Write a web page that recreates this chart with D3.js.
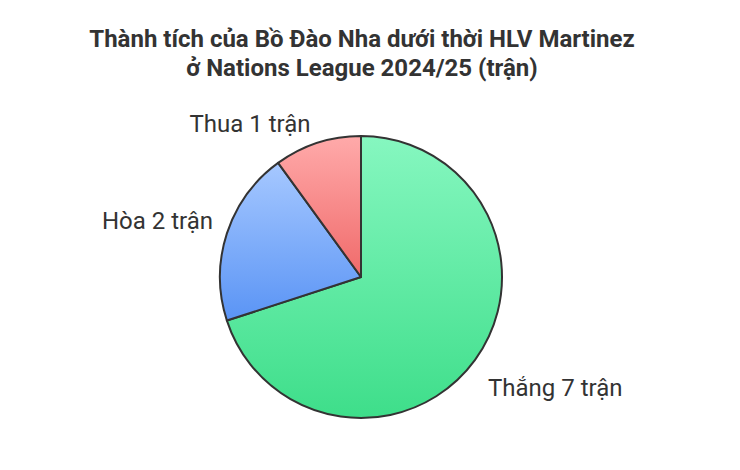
<!DOCTYPE html>
<html><head><meta charset="utf-8">
<script src="https://cdn.jsdelivr.net/npm/d3@7"></script>
<style>body{margin:0;background:#fff}</style></head>
<body><svg id="c" width="740" height="470"></svg>
<script>
const categories=["Thắng 7 trận","Hòa 2 trận","Thua 1 trận"];
const values=[7,2,1];
const colorsTop=["#86f7c0","#a6c8ff","#ffaaaa"];
const colorsBottom=["#3ede8a","#5a94f5","#f06a6a"];
const svg=d3.select("#c");
const defs=svg.append("defs");
categories.forEach((c,i)=>{
  const g=defs.append("linearGradient").attr("id","g"+i).attr("x1",0).attr("y1",0).attr("x2",0).attr("y2",1);
  g.append("stop").attr("offset","0%").attr("stop-color",colorsTop[i]);
  g.append("stop").attr("offset","100%").attr("stop-color",colorsBottom[i]);
});
svg.append("text").attr("x",362).attr("y",47).attr("text-anchor","middle").attr("font-family","Roboto").attr("font-weight","bold").attr("font-size",24).attr("fill","#333").text("Thành tích của Bồ Đào Nha dưới thời HLV Martinez");
svg.append("text").attr("x",362).attr("y",76).attr("text-anchor","middle").attr("font-family","Roboto").attr("font-weight","bold").attr("font-size",24).attr("fill","#333").text("ở Nations League 2024/25 (trận)");
const cx=361,cy=277,r=141;
const pie=d3.pie().sort(null)(values);
const arc=d3.arc().innerRadius(0).outerRadius(r);
const g=svg.append("g").attr("transform",`translate(${cx},${cy})`);
g.selectAll("path").data(pie).join("path").attr("d",arc).attr("fill",(d,i)=>`url(#g${i})`).attr("stroke","#333").attr("stroke-width",2).attr("stroke-linejoin","round");
const lab=[[488,396,"start"],[213,229,"end"],[250,132,"middle"]];
categories.forEach((c,i)=>svg.append("text").attr("x",lab[i][0]).attr("y",lab[i][1]).attr("text-anchor",lab[i][2]).attr("font-family","Roboto").attr("font-size",24).attr("fill","#333").text(c));
</script></body></html>
